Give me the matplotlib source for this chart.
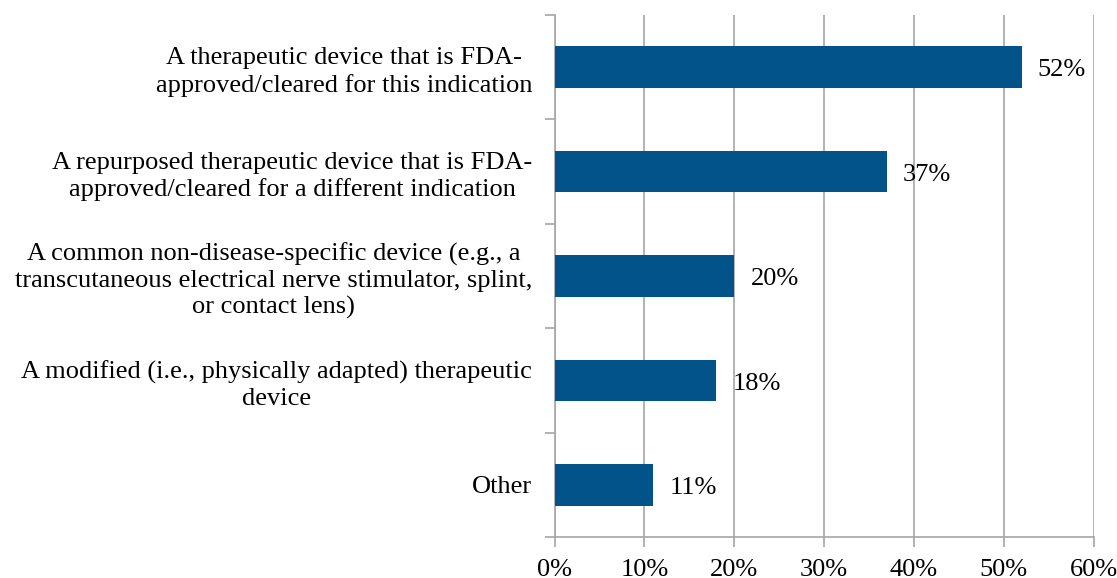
import matplotlib.pyplot as plt
import numpy as np
from matplotlib.ticker import MultipleLocator, PercentFormatter

plt.rcParams["font.family"] = ["Liberation Serif", "DejaVu Serif"]

# 機器の種類ごとの回答割合
categories = [
    "A therapeutic device that is FDA-\napproved/cleared for this indication",
    "A repurposed therapeutic device that is FDA-\napproved/cleared for a different indication",
    "A common non-disease-specific device (e.g., a\ntranscutaneous electrical nerve stimulator, splint,\nor contact lens)",
    "A modified (i.e., physically adapted) therapeutic\ndevice",
    "Other",
]
shares = [52, 37, 20, 18, 11]
value_labels = ["52%", "37%", "20%", "18%", "11%"]

bar_color = "#02538A"
grid_color = "#A6A6A6"
fs = 19

fig = plt.figure(figsize=(11.17, 5.78), dpi=100)
ax = fig.add_axes([0.4965, 0.071, 0.4825, 0.903])

y = np.arange(len(categories))
ax.barh(y, shares, height=0.4, color=bar_color, zorder=3)
ax.set_ylim(len(categories) - 0.5, -0.5)
ax.set_xlim(0, 60)

for yi, v, lab in zip(y, shares, value_labels):
    ax.text(v + 1.8, yi + 0.03, lab, va="center", ha="left", fontsize=fs)

# 区切り位置の目盛りと項目名
ax.set_yticks(np.arange(len(categories) + 1) - 0.5)
ax.set_yticklabels([])
ax.set_yticks(y, minor=True)
ax.set_yticklabels(categories, minor=True, fontsize=fs, linespacing=1.25)
for t in ax.get_yticklabels(minor=True):
    t.set_multialignment("center")
ax.tick_params(axis="y", which="minor", length=0, pad=16)
ax.tick_params(axis="y", which="major", length=7, color=grid_color, width=1.2)

ax.xaxis.set_major_locator(MultipleLocator(10))
ax.xaxis.set_major_formatter(PercentFormatter(decimals=0))
ax.tick_params(axis="x", length=7, color=grid_color, width=1.2, labelsize=fs, pad=9)
ax.grid(axis="x", color=grid_color, linewidth=1.2, zorder=0)

for side in ["top", "right"]:
    ax.spines[side].set_visible(False)
for side in ["left", "bottom"]:
    ax.spines[side].set_color(grid_color)
    ax.spines[side].set_linewidth(1.2)

fig.savefig("out.png", dpi=100)
